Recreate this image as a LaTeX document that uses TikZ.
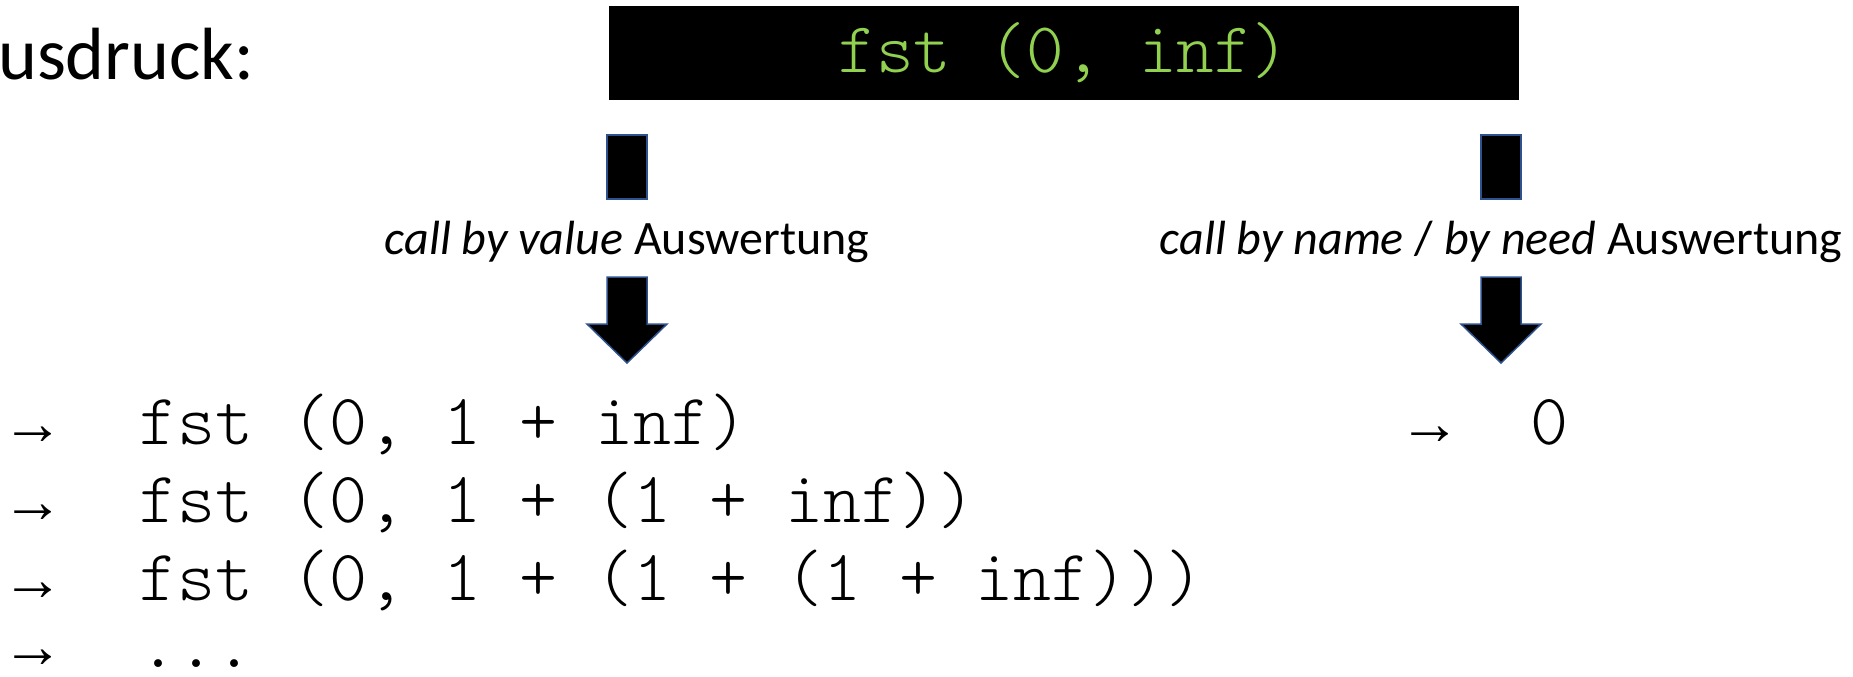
\documentclass[tikz,border=0pt]{standalone}
\usepackage{fontspec}
\setmainfont{Carlito}
\newfontfamily\codefont{Latin Modern Mono Light}
\newfontfamily\arrowfont{Liberation Mono}
\definecolor{codegreen}{HTML}{92D050}
\definecolor{shapeline}{HTML}{2F528F}

\begin{document}
\begin{tikzpicture}[x=1pt,y=-1pt,
  code/.style={font=\codefont\fontsize{72.4}{72}\selectfont, inner sep=0pt, anchor=base west},
  step arrow/.style={font=\arrowfont\fontsize{62}{62}\selectfont, inner sep=0pt, anchor=base west},
  lbl/.style={font=\fontsize{48}{48}\selectfont, inner sep=0pt, anchor=base},
  blockarrow/.style={fill=black, draw=shapeline, line width=1.5pt, line join=miter}]
\useasboundingbox (0,0) rectangle (1853,677);

% heading (cut at the left edge)
\node[font=\fontsize{74}{74}\selectfont, inner sep=0pt, anchor=base west] (head) at (-2,80) {usdruck:};

% the expression being evaluated
\node[fill=black, text=codegreen, minimum width=910, minimum height=94, inner sep=0pt,
      font=\codefont\fontsize{71.6}{72}\selectfont] (expr) at (1064,53) {fst (0, inf)};

% two evaluation strategies: bar, label, block arrow
\foreach \cx/\nm in {627/cbv, 1501/cbn}{
  \coordinate (\nm) at (\cx,0);
  \draw[blockarrow] ([xshift=-20]\nm |- 0,135) rectangle ([xshift=20]\nm |- 0,199);
  \draw[blockarrow] ([xshift=-20]\nm |- 0,277) -- ([xshift=20]\nm |- 0,277)
     -- ([xshift=20]\nm |- 0,324) -- ([xshift=40]\nm |- 0,324) -- (\nm |- 0,363)
     -- ([xshift=-40]\nm |- 0,324) -- ([xshift=-20]\nm |- 0,324) -- cycle;
}
\node[lbl] (lblv) at (627,254) {\textit{call by value} Auswertung};
\node[lbl] (lbln) at (1501,254) {\textit{call by name} / \textit{by need} Auswertung};

% call by value reduction steps
\node[step arrow] (a1) at (14,444) {→};
\node[code] (r1) at (139,444) {fst (0, 1 + inf)};
\node[step arrow] (a2) at (14,522) {→};
\node[code] (r2) at (139,522) {fst (0, 1 + (1 + inf))};
\node[step arrow] (a3) at (14,600) {→};
\node[code] (r3) at (139,600) {fst (0, 1 + (1 + (1 + inf)))};
\node[step arrow] (a4) at (14,667) {→};
\node[code] (r4) at (139,667) {...};

% call by name reduction step
\node[step arrow] (b1) at (1411,444) {→};
\node[code] (s1) at (1530,444) {0};
\end{tikzpicture}
\end{document}
